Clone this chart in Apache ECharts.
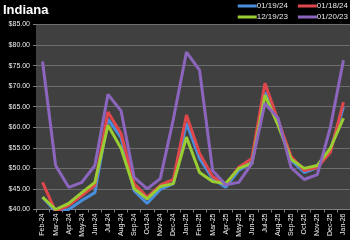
<!DOCTYPE html>
<html>
<head>
<meta charset="utf-8">
<script src="https://cdn.jsdelivr.net/npm/echarts@6/dist/echarts.min.js"></script>
<style>
html,body{margin:0;padding:0;background:#000;}
#c{width:350px;height:240px;}
</style>
</head>
<body>
<div id="c"></div>
<script>
var categories = ['Feb-24','Mar-24','Apr-24','May-24','Jun-24','Jul-24','Aug-24','Sep-24','Oct-24','Nov-24','Dec-24','Jan-25','Feb-25','Mar-25','Apr-25','May-25','Jun-25','Jul-25','Aug-25','Sep-25','Oct-25','Nov-25','Dec-25','Jan-26'];
var seriesNames = ['01/19/24','01/18/24','12/19/23','01/20/23'];
var s_011924 = [43, 39.5, 40, 42.2, 44.1, 62, 57.5, 44.6, 41.5, 44.9, 46.3, 61, 52.4, 47.5, 45.4, 49.5, 51.5, 68.5, 61, 52, 49, 50.2, 54.5, 64.9];
var s_011824 = [46.6, 39.5, 41, 43.4, 45.9, 63.7, 58.5, 46.3, 43, 45.9, 47.3, 63, 53.7, 48, 46, 50.3, 52.4, 70.7, 61.7, 52.9, 49.5, 50.2, 53.9, 66.1];
var s_121923 = [43, 40, 41.5, 44.1, 46.6, 60.5, 54.9, 45.1, 42.6, 45.6, 46.3, 57.6, 49, 46.8, 46.3, 50, 51.2, 67.8, 60.5, 52.2, 50, 50.7, 54.9, 62.2];
var s_012023 = [76, 50.7, 45.4, 46.6, 50.7, 68, 64, 47.8, 45, 47.5, 62, 78.3, 73.9, 49.5, 46, 46.6, 51.2, 65.8, 62.2, 50.2, 47.3, 48.5, 60, 76.3];
var colors = ['#4a8fdc', '#e0474c', '#9acd32', '#8c66be'];

var chart = echarts.init(document.getElementById('c'), null, {renderer:'canvas'});
var allData = [s_011924, s_011824, s_121923, s_012023];
var series = allData.map(function(d, i){
  return {
    name: seriesNames[i], type: 'line', data: d, symbol: 'none', smooth: false,
    lineStyle: {width: 3, color: colors[i]}, itemStyle: {color: colors[i]},
    animation: false, clip: true
  };
});
var legendBase = {
  right: 2, padding: 0, itemWidth: 19, itemHeight: 3, itemGap: 10,
  textStyle: {color: '#e6e6e6', fontSize: 8, fontFamily: 'Liberation Sans', padding: [0,0,0,-5]},
  icon: 'rect'
};
chart.setOption({
  backgroundColor: '#000000',
  animation: false,
  title: {text: 'Indiana', left: 3, top: 4, padding: 0, textStyle: {color: '#ffffff', fontSize: 13, fontWeight: 'bold', fontFamily: 'Liberation Sans'}},
  legend: [
    Object.assign({}, legendBase, {top: 2, data: [seriesNames[0], seriesNames[1]]}),
    Object.assign({}, legendBase, {top: 13, data: [seriesNames[2], seriesNames[3]]})
  ],
  grid: {left: 36, right: 0, top: 24.5, height: 185, show: true, backgroundColor: '#404040', borderWidth: 0},
  xAxis: {
    type: 'category', data: categories, boundaryGap: true,
    axisLine: {show: true, lineStyle: {color: '#808080', width: 1}},
    axisTick: {show: true, length: 3, lineStyle: {color: '#808080'}},
    axisLabel: {rotate: 90, interval: 0, fontSize: 7, color: '#f0f0f0', margin: 4, fontFamily: 'Liberation Sans'},
    splitLine: {show: false}
  },
  yAxis: {
    type: 'value', min: 40, max: 85, interval: 5,
    axisLine: {show: false},
    axisTick: {show: true, length: 3, lineStyle: {color: '#808080'}},
    axisLabel: {fontSize: 7, color: '#f0f0f0', margin: 6, fontFamily: 'Liberation Sans', formatter: function(v){return '$' + v.toFixed(2);}},
    splitLine: {show: true, lineStyle: {color: '#6e6e6e', width: 1}}
  },
  series: series
});
</script>
</body>
</html>
